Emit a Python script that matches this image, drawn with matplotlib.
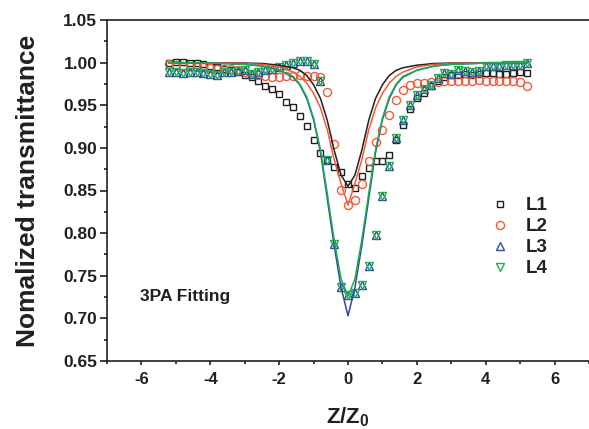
import matplotlib
matplotlib.use("Agg")
import matplotlib.pyplot as plt
from matplotlib.ticker import MultipleLocator, FormatStrFormatter

plt.rcParams['font.family'] = ['Liberation Sans', 'DejaVu Sans']
plt.rcParams['mathtext.fontset'] = 'custom'
plt.rcParams['mathtext.bf'] = 'Liberation Sans:bold'
plt.rcParams['mathtext.rm'] = 'Liberation Sans:bold'
plt.rcParams['axes.unicode_minus'] = False

# measured data positions (Z/Z0)
z = [-5.2, -5.0, -4.8, -4.6, -4.4, -4.2, -4.0, -3.8, -3.6, -3.4, -3.2, -3.0, -2.8,
     -2.6, -2.4, -2.2, -2.0, -1.8, -1.6, -1.4, -1.2, -1.0, -0.8, -0.6, -0.4, -0.2,
     0.0, 0.2, 0.4, 0.6, 0.8, 1.0, 1.2, 1.4, 1.6, 1.8, 2.0, 2.2, 2.4, 2.6, 2.8,
     3.0, 3.2, 3.4, 3.6, 3.8, 4.0, 4.2, 4.4, 4.6, 4.8, 5.0, 5.2]

l1 = [1.000, 1.001, 1.001, 1.000, 0.999, 0.998, 0.996, 0.995, 0.993, 0.991, 0.989, 0.986, 0.983,
      0.978, 0.973, 0.969, 0.963, 0.954, 0.948, 0.937, 0.926, 0.909, 0.894, 0.886, 0.878, 0.872,
      0.858, 0.853, 0.867, 0.876, 0.885, 0.885, 0.892, 0.909, 0.927, 0.946, 0.958, 0.964, 0.972, 0.978, 0.983,
      0.986, 0.986, 0.987, 0.986, 0.987, 0.988, 0.988, 0.987, 0.987, 0.988, 0.989, 0.988]

l2 = [0.998, 0.997, 0.996, 0.996, 0.995, 0.995, 0.994, 0.993, 0.993, 0.992, 0.991, 0.989, 0.987,
      0.985, 0.984, 0.983, 0.983, 0.984, 0.984, 0.985, 0.984, 0.984, 0.983, 0.965, 0.905, 0.851,
      0.833, 0.839, 0.858, 0.885, 0.907, 0.921, 0.939, 0.956, 0.968, 0.974, 0.976, 0.976, 0.977, 0.977, 0.978,
      0.978, 0.979, 0.979, 0.979, 0.980, 0.979, 0.979, 0.979, 0.979, 0.978, 0.977, 0.973]

l3 = [0.989, 0.989, 0.988, 0.989, 0.989, 0.988, 0.987, 0.985, 0.989, 0.989, 0.990, 0.991, 0.987,
      0.989, 0.991, 0.993, 0.995, 0.997, 0.999, 1.002, 1.002, 0.998, 0.979, 0.886, 0.787, 0.737,
      0.727, 0.730, 0.739, 0.761, 0.798, 0.843, 0.879, 0.911, 0.933, 0.950, 0.962, 0.969, 0.974, 0.982, 0.988,
      0.987, 0.991, 0.990, 0.989, 0.990, 0.996, 0.996, 0.996, 0.997, 0.997, 0.997, 0.999]

l4 = [0.989, 0.989, 0.988, 0.989, 0.989, 0.988, 0.987, 0.985, 0.989, 0.989, 0.990, 0.991, 0.987,
      0.989, 0.991, 0.993, 0.995, 0.997, 0.999, 1.002, 1.002, 0.998, 0.979, 0.886, 0.787, 0.737,
      0.727, 0.730, 0.739, 0.761, 0.798, 0.843, 0.879, 0.911, 0.933, 0.950, 0.962, 0.969, 0.974, 0.982, 0.988,
      0.987, 0.991, 0.990, 0.989, 0.990, 0.996, 0.996, 0.996, 0.997, 0.997, 0.997, 0.999]

# 3PA fitting curves
zf = [-5.2, -4.0, -3.0, -2.5, -2.0, -1.6, -1.4, -1.2, -1.0, -0.8, -0.6, -0.4, -0.2, 0.0,
      0.2, 0.4, 0.6, 0.8, 1.0, 1.2, 1.4, 1.6, 2.0, 2.5, 3.0, 4.0, 5.2]
f1 = [1.000, 0.9998, 0.9995, 0.999, 0.997, 0.994, 0.991, 0.985, 0.974, 0.958, 0.932, 0.897, 0.868, 0.855,
      0.868, 0.897, 0.932, 0.958, 0.974, 0.985, 0.991, 0.994, 0.997, 0.999, 0.9995, 0.9998, 1.000]
f2 = [1.000, 0.9998, 0.999, 0.998, 0.995, 0.989, 0.984, 0.976, 0.964, 0.947, 0.921, 0.886, 0.858, 0.833,
      0.858, 0.886, 0.921, 0.947, 0.964, 0.976, 0.984, 0.989, 0.995, 0.998, 0.999, 0.9998, 1.000]
f3 = [1.000, 0.9995, 0.998, 0.996, 0.991, 0.983, 0.974, 0.958, 0.933, 0.895, 0.840, 0.785, 0.736, 0.703,
      0.736, 0.785, 0.840, 0.895, 0.933, 0.958, 0.974, 0.983, 0.991, 0.996, 0.998, 0.9995, 1.000]
f4 = [1.000, 0.9995, 0.998, 0.996, 0.991, 0.984, 0.975, 0.960, 0.935, 0.898, 0.846, 0.792, 0.746, 0.726,
      0.746, 0.792, 0.846, 0.898, 0.935, 0.960, 0.975, 0.984, 0.991, 0.996, 0.998, 0.9995, 1.000]

labels = ['L1', 'L2', 'L3', 'L4']
x_ticks = [-6, -4, -2, 0, 2, 4, 6]

c_black = '#231f20'
c_red = '#f15a3a'
c_blue = '#2e4a9e'
c_green = '#1fae4f'

fig = plt.figure(figsize=(5.89, 4.29), dpi=100)
ax = fig.add_axes([107/589, 68/429, 482/589, 341/429])

ms = 5.8
ax.plot(z, l1, ls='none', marker='s', ms=5.0, mfc='none', mec=c_black, mew=1.0, label=labels[0])
ax.plot(z, l2, ls='none', marker='o', ms=ms, mfc='none', mec=c_red, mew=1.0, label=labels[1])
ax.plot(z, l3, ls='none', marker='^', ms=ms, mfc='none', mec=c_blue, mew=1.0, label=labels[2])
ax.plot(z, l4, ls='none', marker='v', ms=ms, mfc='none', mec=c_green, mew=1.0, label=labels[3])

ax.plot(zf, f1, color=c_black, lw=1.1)
ax.plot(zf, f2, color=c_red, lw=1.1)
ax.plot(zf, f3, color=c_blue, lw=1.1)
ax.plot(zf, f4, color=c_green, lw=1.1)

ax.set_xlim(-7, 7)
ax.set_ylim(0.65, 1.05)
ax.set_xticks(x_ticks)
ax.xaxis.set_minor_locator(MultipleLocator(1))
ax.yaxis.set_major_locator(MultipleLocator(0.05))
ax.yaxis.set_minor_locator(MultipleLocator(0.025))
ax.yaxis.set_major_formatter(FormatStrFormatter('%.2f'))

for s in ['left', 'bottom', 'top']:
    ax.spines[s].set_linewidth(1.2)
    ax.spines[s].set_color(c_black)
ax.spines['right'].set_visible(False)

ax.tick_params(axis='x', which='major', direction='out', length=3, width=1.2, pad=5,
               labelsize=12, colors=c_black)
ax.tick_params(axis='x', which='minor', direction='out', length=2.5, width=1.2, colors=c_black)
ax.tick_params(axis='y', which='major', direction='out', length=5, width=1.2, pad=2,
               labelsize=12.5, colors=c_black)
ax.tick_params(axis='y', which='minor', direction='out', length=2.5, width=1.2, colors=c_black)
for lab in ax.get_xticklabels() + ax.get_yticklabels():
    lab.set_fontweight('bold')

ax.set_ylabel('Nomalized transmittance', fontsize=19, fontweight='bold', color=c_black)
ax.yaxis.set_label_coords(-0.139, 0.5)
ax.set_xlabel(r'$\mathbf{Z/Z_0}$', fontsize=16, color=c_black)
ax.xaxis.set_label_coords(0.5, -0.13)

ax.text(0.068, 0.188, '3PA Fitting', transform=ax.transAxes, fontsize=12.5,
        fontweight='bold', color=c_black, va='center', ha='left')

leg = ax.legend(loc='upper left', bbox_to_anchor=(0.795, 0.48), frameon=False,
                handlelength=1.0, handletextpad=0.9, labelspacing=0.2,
                borderpad=0, borderaxespad=0, prop={'weight': 'bold', 'size': 13.5})
for t in leg.get_texts():
    t.set_color(c_black)

fig.savefig('out.png', dpi=100)
